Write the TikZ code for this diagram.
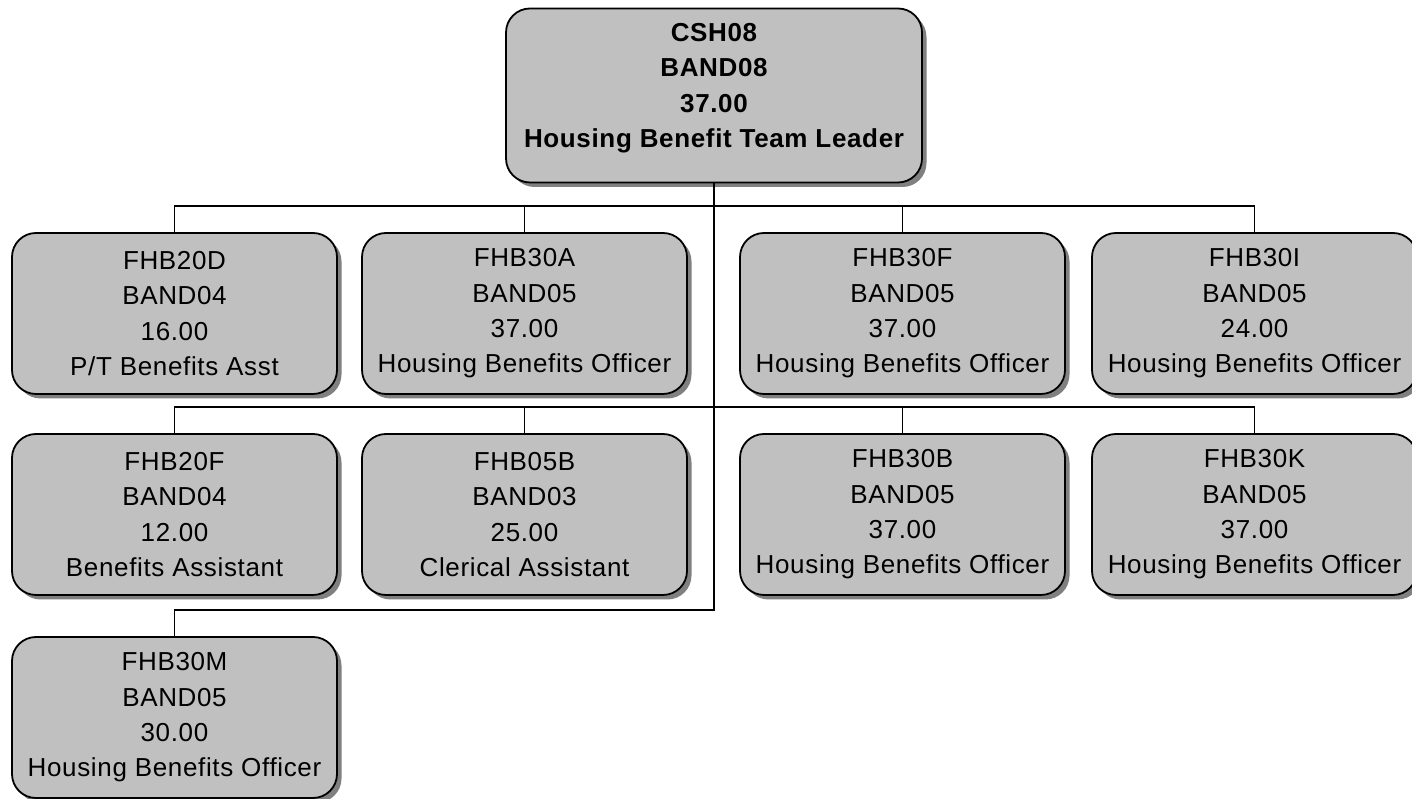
\documentclass[tikz,border=0pt]{standalone}
\usepackage{fontspec}
\setmainfont{Liberation Sans}[LetterSpace=2.5]
\usetikzlibrary{shadows,calc}
\begin{document}
\begin{tikzpicture}[x=1pt,y=1pt,
  post/.style={draw=black, line width=1.8pt, fill=boxgray, rounded corners=24pt,
    minimum width=325pt, minimum height=161pt, inner sep=0pt, align=center,
    font=\fontsize{26}{35.3}\selectfont,
    drop shadow={shadow xshift=4.5pt, shadow yshift=-4.5pt, fill=shadowgray, opacity=1}},
  headpost/.style={post, minimum width=416pt, minimum height=174pt,
    font=\bfseries\fontsize{26}{35.3}\selectfont, text depth=20pt},
  conn/.style={draw=black, line width=1.8pt}]
\definecolor{boxgray}{HTML}{C0C0C0}
\definecolor{shadowgray}{HTML}{808080}
\useasboundingbox (0,0) rectangle (1412,799);
% nodes
\node[headpost] (top) at (714,703.5) {CSH08\\BAND08\\37.00\\Housing Benefit Team Leader};
\node[post] (a1) at (174.5,485.5) {FHB20D\\BAND04\\16.00\\P/T Benefits Asst};
\node[post] (a2) at (524.5,485.5) {FHB30A\\BAND05\\37.00\\Housing Benefits Officer};
\node[post] (a3) at (902.5,485.5) {FHB30F\\BAND05\\37.00\\Housing Benefits Officer};
\node[post] (a4) at (1254.5,485.5) {FHB30I\\BAND05\\24.00\\Housing Benefits Officer};
\node[post] (b1) at (174.5,284.5) {FHB20F\\BAND04\\12.00\\Benefits Assistant};
\node[post] (b2) at (524.5,284.5) {FHB05B\\BAND03\\25.00\\Clerical Assistant};
\node[post] (b3) at (902.5,284.5) {FHB30B\\BAND05\\37.00\\Housing Benefits Officer};
\node[post] (b4) at (1254.5,284.5) {FHB30K\\BAND05\\37.00\\Housing Benefits Officer};
\node[post] (c1) at (174.5,81.5) {FHB30M\\BAND05\\30.00\\Housing Benefits Officer};
% connectors
\draw[conn] (top.south) |- ($(c1.north)+(0,26)$) -- (c1.north);
\draw[conn] (a1.north) -- ++(0,26) -| (a4.north);
\draw[conn] (a2.north) -- ++(0,26);
\draw[conn] (a3.north) -- ++(0,26);
\draw[conn] (b1.north) -- ++(0,26) -| (b4.north);
\draw[conn] (b2.north) -- ++(0,26);
\draw[conn] (b3.north) -- ++(0,26);
\end{tikzpicture}
\end{document}
